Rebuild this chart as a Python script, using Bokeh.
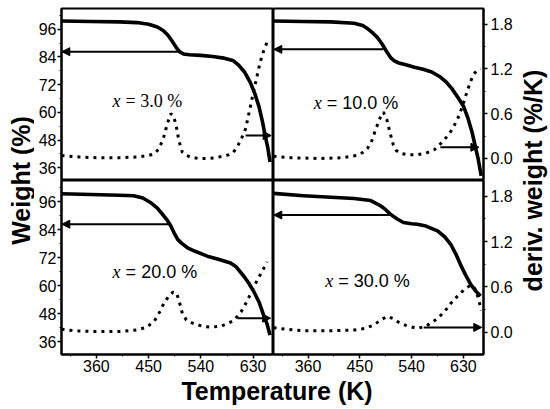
import math
from bokeh.plotting import figure
from bokeh.layouts import gridplot, row, column
from bokeh.models import (Range1d, LinearAxis, SingleIntervalTicker, PrintfTickFormatter,
                          Arrow, NormalHead, Label)
from bokeh.embed import file_html
from bokeh.resources import INLINE

# ---------------- data ----------------
# x = 3.0 %
T_w3 = [300, 350, 400, 430, 450, 465, 475, 483, 490, 497, 503, 510, 520, 540, 560, 580, 595, 605, 615, 625, 633, 640, 646, 651, 655, 659]
W3 = [99.6, 99.4, 99.2, 98.9, 98.2, 97.0, 95.5, 93.5, 91.0, 88.3, 86.3, 85.3, 85.0, 84.7, 84.2, 83.5, 82.5, 80.5, 77.5, 73.0, 68.0, 62.5, 56.0, 49.5, 45.0, 38.5]
T_d3 = [300, 330, 360, 400, 430, 450, 459, 468, 476, 482, 488, 492, 497, 502, 508, 515, 522, 535, 550, 565, 578, 588, 596, 603, 608, 613, 617, 622, 627, 631, 636, 640, 644, 648, 654]
D3 = [0.04, 0.02, 0.01, 0.01, 0.02, 0.04, 0.06, 0.13, 0.285, 0.46, 0.60, 0.58, 0.46, 0.24, 0.085, 0.04, 0.02, 0.0, 0.0, 0.01, 0.03, 0.05, 0.085, 0.16, 0.24, 0.32, 0.40, 0.58, 0.76, 0.91, 1.08, 1.22, 1.34, 1.44, 1.56]

# x = 10.0 %
T_w10 = [300, 350, 400, 440, 455, 465, 473, 480, 486, 492, 498, 504, 510, 518, 530, 545, 560, 575, 590, 600, 610, 620, 630, 638, 645, 651, 656, 661]
W10 = [99.6, 99.4, 99.2, 98.6, 97.6, 96.0, 94.3, 92.6, 90.6, 88.3, 85.8, 83.6, 82.3, 81.4, 80.6, 79.6, 78.7, 77.5, 75.3, 73.2, 70.3, 66.7, 62.8, 57.5, 51.5, 45.0, 39.5, 32.5]
T_d10 = [300, 330, 380, 420, 445, 455, 463, 470, 477, 485, 491, 497, 503, 508, 513, 520, 533, 550, 565, 580, 596, 608, 619, 628, 637, 643, 648, 654, 660]
D10 = [0.03, 0.01, 0.0, 0.01, 0.04, 0.08, 0.13, 0.22, 0.375, 0.54, 0.62, 0.52, 0.33, 0.19, 0.11, 0.07, 0.05, 0.05, 0.07, 0.12, 0.24, 0.36, 0.51, 0.69, 0.91, 1.04, 1.13, 1.18, 1.2]

# x = 20.0 %
T_w20 = [300, 350, 400, 424, 440, 453, 465, 476, 482, 488, 494, 500, 506, 517, 530, 551, 570, 591, 600, 614, 622, 631, 640, 648, 654, 659]
W20 = [99.3, 99.0, 98.7, 98.5, 97.5, 95.6, 93.2, 89.9, 88.0, 85.6, 82.5, 79.8, 78.3, 76.2, 74.7, 72.6, 71.3, 69.7, 68.2, 64.0, 61.2, 57.5, 53.0, 47.4, 43.5, 38.8]
T_d20 = [300, 320, 350, 400, 430, 447, 460, 470, 476, 484, 492, 498, 503, 508, 515, 527, 542, 557, 575, 597, 610, 620, 630, 637, 645, 654]
D20 = [0.04, 0.02, 0.01, 0.01, 0.03, 0.066, 0.15, 0.28, 0.38, 0.47, 0.53, 0.52, 0.40, 0.25, 0.16, 0.115, 0.08, 0.066, 0.08, 0.155, 0.28, 0.42, 0.58, 0.69, 0.80, 0.93]

# x = 30.0 %
T_w30 = [300, 352, 400, 440, 469, 486, 495, 503, 515, 526, 540, 550, 565, 585, 598, 608, 617, 625, 634, 643, 652, 660]
W30 = [99.5, 98.5, 97.8, 97.3, 96.4, 94.2, 92.5, 90.6, 88.5, 87.0, 86.5, 86.3, 85.5, 83.4, 80.8, 77.7, 73.5, 69.0, 64.5, 60.4, 57.5, 55.5]
T_d30 = [300, 320, 352, 400, 440, 460, 475, 488, 498, 508, 518, 530, 550, 565, 585, 598, 608, 620, 631, 640, 646, 652, 657, 661]
D30 = [0.06, 0.04, 0.02, 0.02, 0.03, 0.05, 0.10, 0.17, 0.21, 0.18, 0.13, 0.09, 0.05, 0.08, 0.18, 0.28, 0.38, 0.48, 0.56, 0.61, 0.62, 0.55, 0.42, 0.29]

labels = ["3.0 %", "10.0 %", "20.0 %", "30.0 %"]

# arrows: weight arrows point to the left axis, deriv arrows to the right axis
arrow_w_y = [86.3, 87.3, 86.3, 90.2]
arrow_w_from = [500, 491, 488, 503]
arrow_d_y = [0.307, 0.15, 0.186, 0.064]
arrow_d_from = [617, 590, 603, 561]
arrow_d_to = [661, 657, 660, 662]

# ---------------- styling / layout ----------------
SANS = "Liberation Sans"
SERIF = "Liberation Serif"
label_pos = [(388, 65.1), (370, 64.2), (388, 65.8), (390, 61.8)]
label_fonts = [SERIF, SANS, SANS, SANS]

xr = Range1d(300, 665)
wr = Range1d(30.5, 105.0)
dr = Range1d(-0.295, 2.008)

series = [(T_w3, W3, T_d3, D3), (T_w10, W10, T_d10, D10),
          (T_w20, W20, T_d20, D20), (T_w30, W30, T_d30, D30)]


def style_axis(ax):
    ax.axis_line_color = "black"
    ax.axis_line_width = 2
    ax.major_tick_line_color = "black"
    ax.major_tick_line_width = 1.5
    ax.major_tick_out = 4
    ax.major_tick_in = 0
    ax.minor_tick_line_color = "black"
    ax.minor_tick_line_width = 1
    ax.minor_tick_out = 2
    ax.minor_tick_in = 0
    ax.major_label_text_font = SANS
    ax.major_label_text_font_size = "16px"
    ax.major_label_text_color = "black"


def panel(i, top, left):
    p = figure(width=239 if left else 242, height=180 if top else 197,
               x_range=xr, y_range=wr, output_backend="svg", toolbar_location=None,
               x_axis_location=None if top else "below",
               y_axis_location="left" if left else None,
               min_border_left=27 if left else 0,
               min_border_right=0 if left else 32,
               min_border_top=8 if top else 0,
               min_border_bottom=0 if top else 23)
    p.extra_y_ranges = {"d": dr}
    if left:
        p.left[0].ticker = SingleIntervalTicker(interval=12, num_minor_ticks=2)
        p.left[0].major_label_standoff = 1
    else:
        ax = LinearAxis(y_range_name="d",
                        ticker=SingleIntervalTicker(interval=0.6, num_minor_ticks=2),
                        formatter=PrintfTickFormatter(format="%.1f"))
        ax.major_label_standoff = 3
        p.add_layout(ax, "right")
    if not top:
        p.xaxis.ticker = SingleIntervalTicker(interval=90, num_minor_ticks=2)
        p.xaxis.major_label_standoff = 1
    for ax in p.axis:
        style_axis(ax)
    p.grid.visible = False
    p.outline_line_color = "black"
    p.outline_line_width = 2
    p.outline_line_alpha = 1
    p.background_fill_color = "white"
    p.border_fill_color = "white"

    tw, w, td, d = series[i]
    p.line(td, d, y_range_name="d", line_color="black", line_width=3,
           line_dash="3 5", line_cap="butt")
    p.line(tw, w, line_color="black", line_width=3.6, line_join="round")

    p.add_layout(Arrow(end=NormalHead(size=8, fill_color="black", line_color="black"),
                       x_start=arrow_w_from[i], y_start=arrow_w_y[i],
                       x_end=xr.start + 0.5, y_end=arrow_w_y[i],
                       line_color="black", line_width=2))
    p.add_layout(Arrow(end=NormalHead(size=8, fill_color="black", line_color="black"),
                       x_start=arrow_d_from[i], y_start=arrow_d_y[i],
                       x_end=arrow_d_to[i], y_end=arrow_d_y[i],
                       y_range_name="d", line_color="black", line_width=2))

    lx, ly = label_pos[i]
    p.add_layout(Label(x=lx, y=ly, text="x", text_font=SERIF, text_font_style="italic",
                       text_font_size="18px", text_baseline="middle", text_color="black"))
    p.add_layout(Label(x=lx, y=ly, x_offset=13, text="= " + labels[i], text_font=label_fonts[i],
                       text_font_size="18px", text_baseline="middle", text_color="black"))
    return p


def label_fig(w, h, text, x, y, angle):
    f = figure(width=w, height=h, x_range=Range1d(0, w), y_range=Range1d(0, h),
               output_backend="svg", toolbar_location=None,
               x_axis_location=None, y_axis_location=None, min_border=0)
    f.outline_line_color = None
    f.grid.visible = False
    f.add_layout(Label(x=x, y=y, text=text, angle=angle, text_align="center",
                       text_baseline="middle", text_font=SANS, text_font_style="bold",
                       text_font_size="25px", text_color="black"))
    return f


TL = panel(0, True, True)
TR = panel(1, True, False)
BL = panel(2, False, True)
BR = panel(3, False, False)
grid = gridplot([[TL, TR], [BL, BR]], toolbar_location=None)

Lfig = label_fig(34, 377, "Weight (%)", 20, 197, math.pi / 2)
Rfig = label_fig(34, 377, "deriv. weight (%/K)", 17, 197, math.pi / 2)
Bfig = label_fig(481, 31, "Temperature (K)", 242.5, 17.5, 0)

layout = row(Lfig, column(grid, Bfig), Rfig)

open("out.html", "w").write(file_html(layout, INLINE))
